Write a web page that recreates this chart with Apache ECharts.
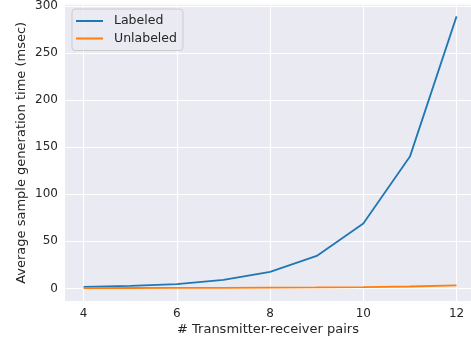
<!DOCTYPE html>
<html>
<head>
<meta charset="utf-8">
<script src="https://cdn.jsdelivr.net/npm/echarts@6/dist/echarts.min.js"></script>
<style>
  html, body { margin: 0; padding: 0; background: #fff; }
  #chart { width: 471px; height: 341px; }
</style>
</head>
<body>
<div id="chart"></div>
<script>
var pairs = [4, 5, 6, 7, 8, 9, 10, 11, 12];
var labeled = [1.5, 2.7, 4.5, 9, 17.5, 34.5, 69, 140, 289];
var unlabeled = [0.3, 0.4, 0.5, 0.6, 0.8, 1.0, 1.4, 2.0, 3.3];
var xTicks = [4, 6, 8, 10, 12];
var yTicks = [0, 50, 100, 150, 200, 250, 300];

function pts(ys) {
  return pairs.map(function (x, i) { return [x, ys[i]]; });
}

var chart = echarts.init(document.getElementById('chart'));
var txt = '#262626';
var fnt = 'DejaVu Sans';

chart.setOption({
  backgroundColor: '#ffffff',
  animation: false,
  grid: {
    left: 65, right: 0, top: 4, bottom: 39.3,
    show: true, backgroundColor: '#EAEAF2', borderWidth: 0
  },
  legend: {
    orient: 'vertical',
    left: 72, top: 9,
    icon: 'rect',
    itemWidth: 27, itemHeight: 2,
    itemGap: 3.5,
    padding: [5, 6, 5, 4],
    backgroundColor: 'rgba(234,234,242,0.8)',
    borderColor: '#cccccc', borderWidth: 1, borderRadius: 3,
    textStyle: { fontFamily: fnt, fontSize: 12.5, color: txt, padding: [0, 0, 0, 6], lineHeight: 14 },
    data: ['Labeled', 'Unlabeled']
  },
  xAxis: {
    type: 'value',
    min: 3.6, max: 12.31,
    name: '# Transmitter-receiver pairs',
    nameLocation: 'middle', nameGap: 22,
    nameMoveOverlap: false,
    nameTextStyle: { fontFamily: fnt, fontSize: 13, color: txt },
    axisLine: { show: false },
    axisTick: { show: false, customValues: xTicks },
    axisLabel: { fontFamily: fnt, fontSize: 12, color: txt, margin: 7, customValues: xTicks },
    splitLine: { lineStyle: { color: '#ffffff', width: 1.1 } }
  },
  yAxis: {
    type: 'value',
    min: -13.4, max: 301.4,
    name: 'Average sample generation time (msec)',
    nameLocation: 'middle', nameGap: 37,
    nameMoveOverlap: false,
    nameTextStyle: { fontFamily: fnt, fontSize: 13, color: txt },
    axisLine: { show: false },
    axisTick: { show: false, customValues: yTicks },
    axisLabel: { fontFamily: fnt, fontSize: 12, color: txt, margin: 7, customValues: yTicks },
    splitLine: { lineStyle: { color: '#ffffff', width: 1.1 } }
  },
  series: [
    {
      name: 'Labeled', type: 'line', data: pts(labeled),
      showSymbol: false, symbol: 'none',
      lineStyle: { color: '#1f77b4', width: 1.8 },
      itemStyle: { color: '#1f77b4' }
    },
    {
      name: 'Unlabeled', type: 'line', data: pts(unlabeled),
      showSymbol: false, symbol: 'none',
      lineStyle: { color: '#ff7f0e', width: 1.8 },
      itemStyle: { color: '#ff7f0e' }
    }
  ]
});
</script>
</body>
</html>
